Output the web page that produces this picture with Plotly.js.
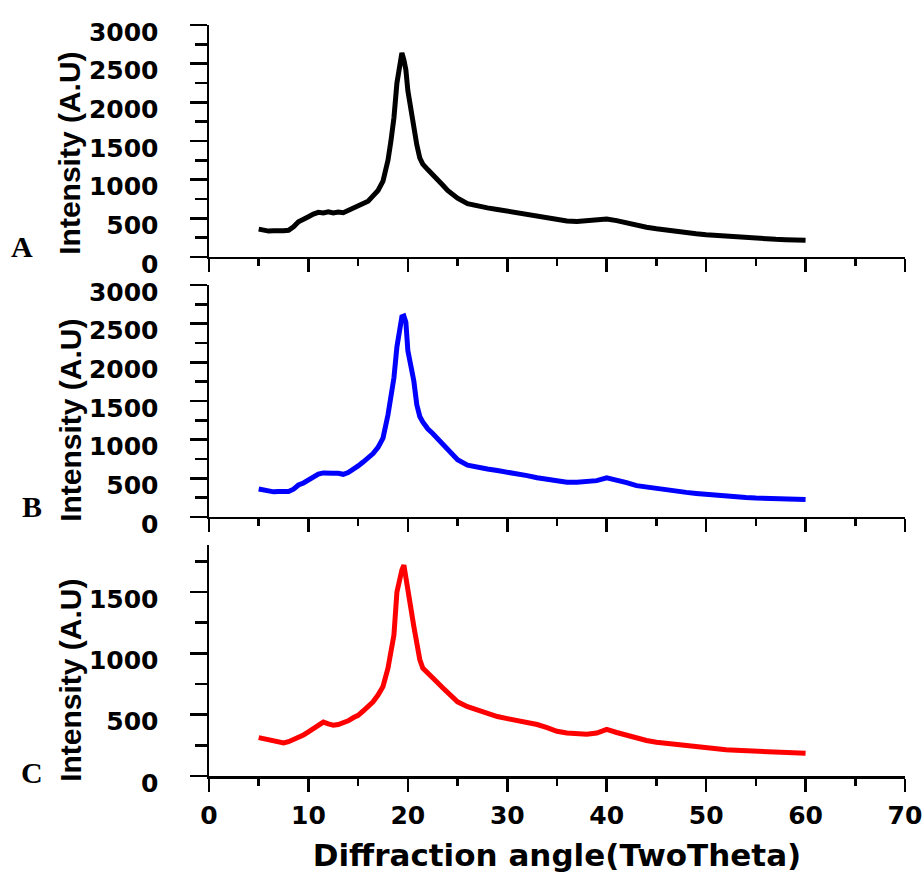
<!DOCTYPE html>
<html>
<head>
<meta charset="utf-8">
<script src="https://cdn.plot.ly/plotly-3.0.1.min.js"></script>
<style>html,body{margin:0;padding:0;background:#fff;}#chart{width:924px;height:886px;}</style>
</head>
<body>
<div id="chart"></div>
<script>
// Diffraction angle (2θ) sample positions
const angleX = [5,5.5,6,6.5,7,7.5,8,8.5,9,9.5,10,10.5,11,11.5,12,12.5,13,13.5,14,14.5,15,15.5,16,16.5,17,17.5,18,18.3,18.6,18.9,19.2,19.4,19.6,19.8,20.0,20.3,20.6,20.9,21.2,21.5,22,22.5,23,23.5,24,24.5,25,26,27,28,29,30,31,32,33,34,35,36,37,38,39,40,41,42,43,44,45,46,47,48,49,50,51,52,53,54,55,56,57,58,59,60];

// Intensity (A.U) series
const intensityA = [360,345,335,338,332,340,345,390,455,480,520,555,578,570,585,570,580,572,600,625,650,690,720,790,860,980,1250,1500,1800,2250,2500,2640,2550,2420,2150,1900,1680,1450,1280,1200,1130,1070,1010,930,860,800,760,690,655,635,615,595,575,548,520,505,485,465,460,468,480,492,470,440,405,385,365,345,330,315,300,288,278,268,258,248,240,235,228,224,220,218];
const intensityB = [362,350,330,325,330,322,330,360,414,440,475,520,555,570,560,565,565,552,575,610,660,710,760,820,900,1020,1320,1550,1800,2200,2450,2590,2600,2520,2150,1950,1760,1450,1300,1230,1140,1080,1010,940,870,800,740,670,640,620,600,582,560,535,508,490,470,450,450,455,470,505,480,445,405,385,365,345,330,318,305,292,280,270,260,252,245,240,235,230,228,225];
const intensityC = [313,305,300,294,285,270,280,295,313,335,360,385,410,440,425,415,420,430,450,475,495,530,570,605,660,730,880,1000,1150,1500,1620,1680,1720,1600,1520,1370,1220,1080,950,880,835,805,760,720,680,640,605,565,535,510,485,468,452,438,420,395,365,350,345,340,350,380,355,330,310,290,275,265,258,250,240,230,222,215,210,205,200,197,192,188,186,185];

const panelLabels = ['A','B','C'];
const xTitle = 'Diffraction angle(TwoTheta)';
const yTitle = 'Intensity (A.U)';

const traces = [
  {x: angleX, y: intensityA, xaxis:'x3', yaxis:'y3', mode:'lines', line:{color:'#000000', width:5}, showlegend:false},
  {x: angleX, y: intensityB, xaxis:'x2', yaxis:'y2', mode:'lines', line:{color:'#0000ff', width:5}, showlegend:false},
  {x: angleX, y: intensityC, xaxis:'x',  yaxis:'y',  mode:'lines', line:{color:'#ff0000', width:5}, showlegend:false}
];

const tickFontX = {family:'DejaVu Sans', size:25, color:'#000', weight:'bold'};
const tickFontY = {family:'DejaVu Sans', size:25, color:'#000', weight:'bold'};

function xAx(anchor, labels){
  return {
    anchor: anchor, domain:[0,1], range:[0,70], dtick:10, tick0:0,
    ticks:'outside', ticklen:13, tickwidth:2.5, tickcolor:'#000',
    minor:{dtick:5, ticks:'outside', ticklen:7, tickwidth:2.5, tickcolor:'#000'},
    showline:true, linewidth:2.5, linecolor:'#000',
    showgrid:false, zeroline:false, showticklabels: labels,
    tickfont: tickFontX, ticklabelstandoff: 2
  };
}
function yAx(dom, top){
  return {
    domain: dom, range:[0, top], dtick:500, tick0:0,
    ticks:'outside', ticklen:17, tickwidth:2.5, tickcolor:'#000',
    minor:{dtick:250, ticks:'outside', ticklen:12, tickwidth:2.5, tickcolor:'#000'},
    showline:true, linewidth:2.5, linecolor:'#000',
    showgrid:false, zeroline:false,
    tickfont: tickFontY, ticklabelstandoff: 26, ticklabelshift: 7
  };
}

const xa = xAx('y', true);
xa.title = {text: xTitle, font:{family:'DejaVu Sans', size:31, color:'#000', weight:'bold'}, standoff: 16};

const yTitleFont = {family:'Liberation Sans', size:30, color:'#000', weight:'bold'};
const letterFont = {family:'Liberation Serif', size:30, color:'#000', weight:'bold'};

const layout = {
  width:924, height:886,
  margin:{l:209, r:19, t:25, b:110},
  paper_bgcolor:'#ffffff', plot_bgcolor:'#ffffff',
  showlegend:false,
  xaxis: xa,
  xaxis2: xAx('y2', false),
  xaxis3: xAx('y3', false),
  yaxis: yAx([0, 0.3076], 1884),
  yaxis2: yAx([0.3449, 0.6538], 3000),
  yaxis3: yAx([0.6911, 1], 3000),
  annotations: [
    {text: yTitle, xref:'paper', yref:'paper', x:-0.2, y:0.8296, xanchor:'center', yanchor:'middle', textangle:-90, showarrow:false, font:yTitleFont},
    {text: yTitle, xref:'paper', yref:'paper', x:-0.2, y:0.474, xanchor:'center', yanchor:'middle', textangle:-90, showarrow:false, font:yTitleFont},
    {text: yTitle, xref:'paper', yref:'paper', x:-0.2, y:0.1278, xanchor:'center', yanchor:'middle', textangle:-90, showarrow:false, font:yTitleFont},
    {text: panelLabels[0], xref:'paper', yref:'paper', x:-0.2687, y:0.7044, xanchor:'center', yanchor:'middle', showarrow:false, font:letterFont},
    {text: panelLabels[1], xref:'paper', yref:'paper', x:-0.2543, y:0.3582, xanchor:'center', yanchor:'middle', showarrow:false, font:letterFont},
    {text: panelLabels[2], xref:'paper', yref:'paper', x:-0.2543, y:0.0053, xanchor:'center', yanchor:'middle', showarrow:false, font:letterFont}
  ]
};

Plotly.newPlot('chart', traces, layout, {displayModeBar:false, staticPlot:true});
</script>
</body>
</html>
